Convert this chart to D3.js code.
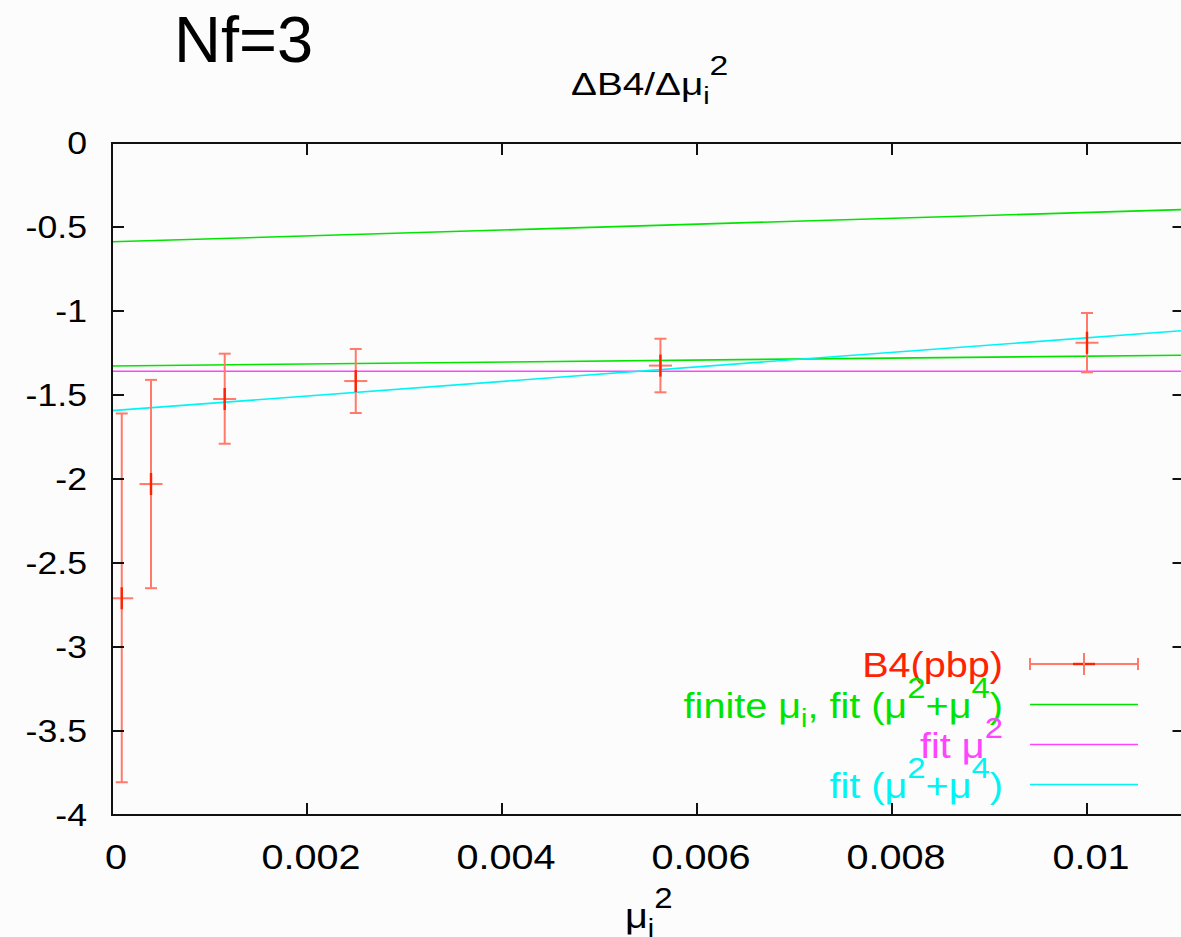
<!DOCTYPE html>
<html>
<head>
<meta charset="utf-8">
<script src="https://cdn.jsdelivr.net/npm/d3@7"></script>
<style>
  html, body { margin: 0; padding: 0; background: #fcfcfc; }
  svg { display: block; }
  text { font-family: "Liberation Sans", Arial, Helvetica, sans-serif; }
</style>
</head>
<body>
<svg id="chart" width="1181" height="937"></svg>
<script>
// ---- data ----
const muSq   = [0.0001, 0.0004, 0.001156, 0.0025, 0.005625, 0.01];
const b4     = [-2.71, -2.03, -1.524, -1.417, -1.325, -1.189];
const b4Low  = [-3.805, -2.65, -1.79, -1.607, -1.484, -1.365];
const b4High = [-1.61, -1.41, -1.254, -1.226, -1.165, -1.012];

const fitX          = [0, 0.011];
const finiteFitA    = [-0.588, -0.396];   // green (upper)
const finiteFitB    = [-1.327, -1.263];   // green (lower)
const fitMu2        = [-1.359, -1.359];   // magenta
const fitMu2Mu4     = [-1.593, -1.116];   // cyan

const xTicks = [0, 0.002, 0.004, 0.006, 0.008, 0.01];
const xTickLabels = ["0", "0.002", "0.004", "0.006", "0.008", "0.01"];
const yTicks = [0, -0.5, -1, -1.5, -2, -2.5, -3, -3.5, -4];
const yTickLabels = ["0", "-0.5", "-1", "-1.5", "-2", "-2.5", "-3", "-3.5", "-4"];

// ---- layout ----
const svg = d3.select("#chart");
const x = d3.scaleLinear().domain([0, 0.011]).range([112, 1184.5]);
const y = d3.scaleLinear().domain([-4, 0]).range([815, 143]);

const RED = "#ff2200", RED_LIGHT = "#ff7a6a";
const GREEN = "#00e400", MAGENTA = "#ff44ff", CYAN = "#00f4f4";

svg.append("rect").attr("width", 1181).attr("height", 937).attr("fill", "#fcfcfc");

// rich text helper: segs = [{t, size, off}] off = baseline offset (positive = down)
function richText(parent, px, py, sx, anchor, color, segs) {
  const t = parent.append("text")
    .attr("transform", `translate(${px},${py}) scale(${sx},1)`)
    .attr("text-anchor", anchor)
    .attr("fill", color);
  let cur = 0;
  segs.forEach(s => {
    const off = s.off || 0;
    t.append("tspan").attr("dy", off - cur).attr("font-size", s.size).text(s.t);
    cur = off;
  });
  return t;
}

// ---- fits ----
const line = d3.line().x(d => x(d[0])).y(d => y(d[1]));
const fits = [
  { v: finiteFitA, c: GREEN },
  { v: finiteFitB, c: GREEN },
  { v: fitMu2, c: MAGENTA },
  { v: fitMu2Mu4, c: CYAN }
];
const plotG = svg.append("g");
plotG.append("clipPath").attr("id", "clip").append("rect")
  .attr("x", x(0)).attr("y", y(0)).attr("width", x(0.011) - x(0)).attr("height", y(-4) - y(0));
const inner = plotG.append("g").attr("clip-path", "url(#clip)");
fits.forEach(f => {
  inner.append("path")
    .attr("d", line(fitX.map((xx, i) => [xx, f.v[i]])))
    .attr("fill", "none").attr("stroke", f.c).attr("stroke-width", 1.6);
});

// ---- error bars ----
const pts = muSq.map((m, i) => ({ m, v: b4[i], lo: b4Low[i], hi: b4High[i] }));
const eb = inner.append("g");
pts.forEach(p => {
  const cx = x(p.m);
  eb.append("line").attr("x1", cx).attr("x2", cx).attr("y1", y(p.hi)).attr("y2", y(p.lo))
    .attr("stroke", RED_LIGHT).attr("stroke-width", 2);
  [p.hi, p.lo].forEach(e => {
    eb.append("line").attr("x1", cx - 6).attr("x2", cx + 6).attr("y1", y(e)).attr("y2", y(e))
      .attr("stroke", RED_LIGHT).attr("stroke-width", 2);
  });
  const cy = y(p.v);
  eb.append("line").attr("x1", cx - 11.5).attr("x2", cx + 11.5).attr("y1", cy).attr("y2", cy)
    .attr("stroke", RED_LIGHT).attr("stroke-width", 2);
  eb.append("line").attr("x1", cx).attr("x2", cx).attr("y1", cy - 11).attr("y2", cy + 11)
    .attr("stroke", RED).attr("stroke-width", 2.4);
});

// ---- frame and ticks ----
const axG = svg.append("g").attr("stroke", "#111").attr("stroke-width", 2);
axG.append("rect").attr("x", x(0)).attr("y", y(0))
  .attr("width", x(0.011) - x(0)).attr("height", y(-4) - y(0)).attr("fill", "none");
yTicks.forEach(t => {
  axG.append("line").attr("x1", x(0)).attr("x2", x(0) + 12).attr("y1", y(t)).attr("y2", y(t));
  axG.append("line").attr("x1", x(0.011)).attr("x2", x(0.011) - 12).attr("y1", y(t)).attr("y2", y(t));
});
xTicks.forEach(t => {
  axG.append("line").attr("x1", x(t)).attr("x2", x(t)).attr("y1", y(-4)).attr("y2", y(-4) - 12);
  axG.append("line").attr("x1", x(t)).attr("x2", x(t)).attr("y1", y(0)).attr("y2", y(0) + 12);
});

// tick labels
yTicks.forEach((t, i) => {
  richText(svg, 87, y(t) + 11, 1.15, "end", "#000", [{ t: yTickLabels[i], size: 31 }]);
});
xTicks.forEach((t, i) => {
  richText(svg, x(t) + 4, 869, 1.1, "middle", "#000", [{ t: xTickLabels[i], size: 36 }]);
});

// ---- titles ----
svg.append("text").attr("x", 174).attr("y", 62)
  .attr("font-family", "Lato, 'Open Sans', sans-serif").attr("font-size", 65).attr("fill", "#000")
  .text("Nf=3");

richText(svg, 571, 95, 1.25, "start", "#000", [
  { t: "ΔB4/Δμ", size: 31 },
  { t: "i", size: 23, off: 9 },
  { t: "2", size: 27, off: -20 }
]);

richText(svg, 625, 928, 1.1, "start", "#000", [
  { t: "μ", size: 36 },
  { t: "i", size: 26, off: 9 },
  { t: "2", size: 30, off: -20 }
]);

// ---- legend ----
const legY = [664, 704.5, 744.5, 784.5];
const legTextX = 1003, legX1 = 1030, legX2 = 1138;
const lg = svg.append("g");

// B4(pbp)
richText(lg, legTextX, legY[0] + 13, 1.1, "end", RED, [{ t: "B4(pbp)", size: 36 }]);
lg.append("line").attr("x1", legX1).attr("x2", legX2).attr("y1", legY[0]).attr("y2", legY[0])
  .attr("stroke", RED_LIGHT).attr("stroke-width", 2);
[legX1, legX2].forEach(xx => lg.append("line").attr("x1", xx).attr("x2", xx)
  .attr("y1", legY[0] - 6).attr("y2", legY[0] + 6).attr("stroke", RED_LIGHT).attr("stroke-width", 2));
const lmx = (legX1 + legX2) / 2;
lg.append("line").attr("x1", lmx - 11).attr("x2", lmx + 11).attr("y1", legY[0]).attr("y2", legY[0])
  .attr("stroke", RED).attr("stroke-width", 2.4);
lg.append("line").attr("x1", lmx).attr("x2", lmx).attr("y1", legY[0] - 11).attr("y2", legY[0] + 11)
  .attr("stroke", RED_LIGHT).attr("stroke-width", 2);

richText(lg, legTextX, legY[1] + 13, 1.1, "end", GREEN, [
  { t: "finite μ", size: 36 },
  { t: "i", size: 26, off: 9 },
  { t: ", fit (μ", size: 36, off: 0 },
  { t: "2", size: 30, off: -20 },
  { t: "+μ", size: 36, off: 0 },
  { t: "4", size: 30, off: -20 },
  { t: ")", size: 36, off: 0 }
]);
richText(lg, legTextX, legY[2] + 13, 1.1, "end", MAGENTA, [
  { t: "fit μ", size: 36 },
  { t: "2", size: 30, off: -20 }
]);
richText(lg, legTextX, legY[3] + 13, 1.1, "end", CYAN, [
  { t: "fit (μ", size: 36 },
  { t: "2", size: 30, off: -20 },
  { t: "+μ", size: 36, off: 0 },
  { t: "4", size: 30, off: -20 },
  { t: ")", size: 36, off: 0 }
]);
[GREEN, MAGENTA, CYAN].forEach((c, i) => {
  lg.append("line").attr("x1", legX1).attr("x2", legX2).attr("y1", legY[i + 1]).attr("y2", legY[i + 1])
    .attr("stroke", c).attr("stroke-width", 1.6);
});
</script>
</body>
</html>
